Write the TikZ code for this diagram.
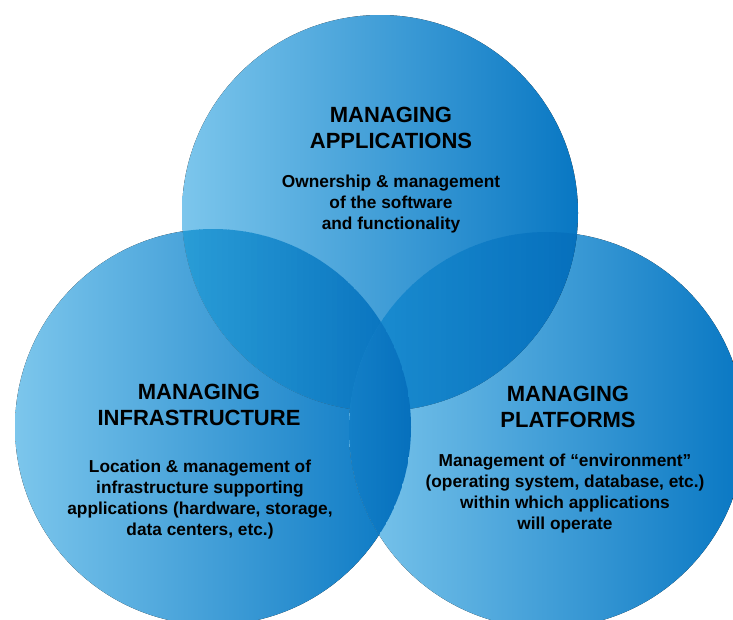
\documentclass[tikz,border=0pt]{standalone}
\usepackage{fontspec}
\setmainfont{Liberation Sans}

\definecolor{ringlight}{HTML}{7CC6EC}
\definecolor{ringdark}{HTML}{0877C3}
\definecolor{lensAIlight}{HTML}{299CD6}
\definecolor{lensAPlight}{HTML}{1C8ED1}
\definecolor{lensIPlight}{HTML}{137FC7}
\definecolor{lensdark}{HTML}{0670BD}

% vertical strips from #2 to #3, fading from colour #1 to lensdark
\newcommand{\lensstrips}[3]{%
    \pgfmathsetmacro{\stripw}{(#3-#2)/40}
    \foreach \k in {0,...,39} {
        \pgfmathsetmacro{\xa}{#2+\k*\stripw}
        \pgfmathsetmacro{\mix}{100*\k/39}
        \fill[lensdark!\mix!#1] (\xa,0) rectangle ++(\stripw+0.6,619);
    }%
}

\begin{document}
\begin{tikzpicture}[
        x=1pt, y=-1pt,
        ring/.style={left color=ringlight, right color=ringdark, draw=none},
        heading/.style={font=\fontsize{22}{25.6}\selectfont\bfseries, align=center, inner sep=0pt},
        blurb/.style={font=\fontsize{17.3}{20.8}\selectfont\bfseries, align=center, inner sep=0pt}
    ]

    \useasboundingbox (0,0) rectangle (733,619);

    % Circle centres
    \coordinate (capps) at (380,213);
    \coordinate (cinfra) at (213,427);
    \coordinate (cplat) at (547,430);

    % Main circles
    \fill[ring] (cinfra) circle[radius=198pt];
    \fill[ring] (cplat) circle[radius=198pt];
    \fill[ring] (capps) circle[radius=198pt];

    % Overlaps, a bit darker
    \begin{scope}
        \clip (capps) circle[radius=198pt];
        \clip (cinfra) circle[radius=198pt];
        \lensstrips{lensAIlight}{182}{412}
    \end{scope}
    \begin{scope}
        \clip (capps) circle[radius=198pt];
        \clip (cplat) circle[radius=198pt];
        \lensstrips{lensAPlight}{349}{578}
    \end{scope}
    \begin{scope}
        \clip (cinfra) circle[radius=198pt];
        \clip (cplat) circle[radius=198pt];
        \lensstrips{lensIPlight}{349}{412}
    \end{scope}

    % Labels
    \node[heading] (appstitle) at (391,128) {MANAGING\\APPLICATIONS};
    \node[blurb] (appstext) at (391,204) {Ownership \& management\\of the software\\and functionality};

    \node[heading] (infratitle) at (199,405) {MANAGING\\INFRASTRUCTURE};
    \node[blurb] (infratext) at (200,499.5) {Location \& management of\\infrastructure supporting\\applications (hardware, storage,\\data centers, etc.)};

    \node[heading] (plattitle) at (568,407) {MANAGING\\PLATFORMS};
    \node[blurb] (plattext) at (565,493.5) {Management of “environment”\\(operating system, database, etc.)\\within which applications\\will operate};

\end{tikzpicture}
\end{document}
